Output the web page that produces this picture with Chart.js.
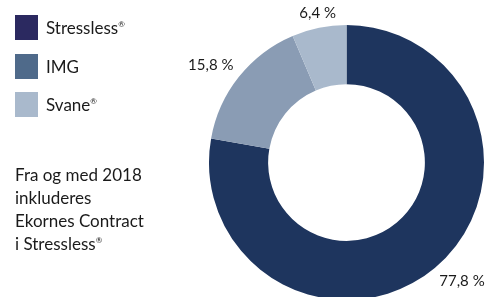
<!DOCTYPE html>
<html><head><meta charset="utf-8">
<script src="https://cdn.jsdelivr.net/npm/chart.js@4/dist/chart.umd.min.js"></script>
<style>
html,body{margin:0;padding:0;background:#fff;overflow:hidden;width:491px;height:297px;}
#wrap{position:absolute;left:0;top:0;width:491px;height:300px;}
.leg{position:absolute;left:15px;font-family:Lato,"Open Sans",sans-serif;font-size:17px;color:#1a1a1a;}
.leg .sw{position:absolute;left:0;width:23px;height:25px;}
.leg .tx{position:absolute;left:31px;white-space:nowrap;line-height:25px;}
sup{font-size:8px;vertical-align:7px;line-height:0;}
#note{position:absolute;left:15px;top:163px;font-family:Lato,"Open Sans",sans-serif;font-size:17px;line-height:23px;color:#1a1a1a;}
</style></head><body>
<div id="wrap"><canvas id="c" width="491" height="300"></canvas></div>
<div id="legend"></div>
<div id="note">Fra og med 2018<br>inkluderes<br>Ekornes Contract<br>i Stressless<sup>®</sup></div>
<script>
const categories = ["Stressless", "IMG", "Svane"];
const registered = [true, false, true];
const shares = [77.8, 15.8, 6.4];
const valueLabels = ["77,8 %", "15,8 %", "6,4 %"];
const sliceColors = ["#1e355e", "#8a9cb4", "#a9b9cc"];
const legendColors = ["#2b2960", "#4f6a8a", "#a9b9cc"];

const leg = document.getElementById('legend');
categories.forEach((c, i) => {
  const d = document.createElement('div');
  d.className = 'leg';
  d.style.top = (15 + i * 38.5) + 'px';
  d.innerHTML = '<div class="sw" style="background:' + legendColors[i] + '"></div><div class="tx">' + c + (registered[i] ? '<sup>®</sup>' : '') + '</div>';
  leg.appendChild(d);
});

const labelPlugin = {
  id: 'sliceLabels',
  afterDatasetsDraw(chart) {
    const ctx = chart.ctx;
    const meta = chart.getDatasetMeta(0);
    ctx.save();
    ctx.font = '15px Lato, "Open Sans", sans-serif';
    ctx.fillStyle = '#1a1a1a';
    meta.data.forEach((arc, i) => {
      const p = arc.getProps(['x', 'y', 'startAngle', 'endAngle', 'outerRadius']);
      const a = (p.startAngle + p.endAngle) / 2;
      const dx = Math.cos(a), dy = Math.sin(a);
      const r = p.outerRadius + 7;
      const x = p.x + dx * r, y = p.y + dy * r;
      ctx.textAlign = dx > 0.3 ? 'left' : (dx < -0.3 ? 'right' : 'center');
      ctx.textBaseline = dy > 0.3 ? 'top' : (dy < -0.3 ? 'bottom' : 'middle');
      ctx.fillText(valueLabels[i], x, y);
    });
    ctx.restore();
  }
};

new Chart(document.getElementById('c'), {
  type: 'doughnut',
  data: {
    labels: categories,
    datasets: [{ data: shares, backgroundColor: sliceColors, borderWidth: 0 }]
  },
  options: {
    responsive: false,
    animation: false,
    cutout: '57%',
    layout: { padding: { left: 209, right: 7, top: 25, bottom: 0 } },
    plugins: { legend: { display: false }, tooltip: { enabled: false } }
  },
  plugins: [labelPlugin]
});
</script>
</body></html>
